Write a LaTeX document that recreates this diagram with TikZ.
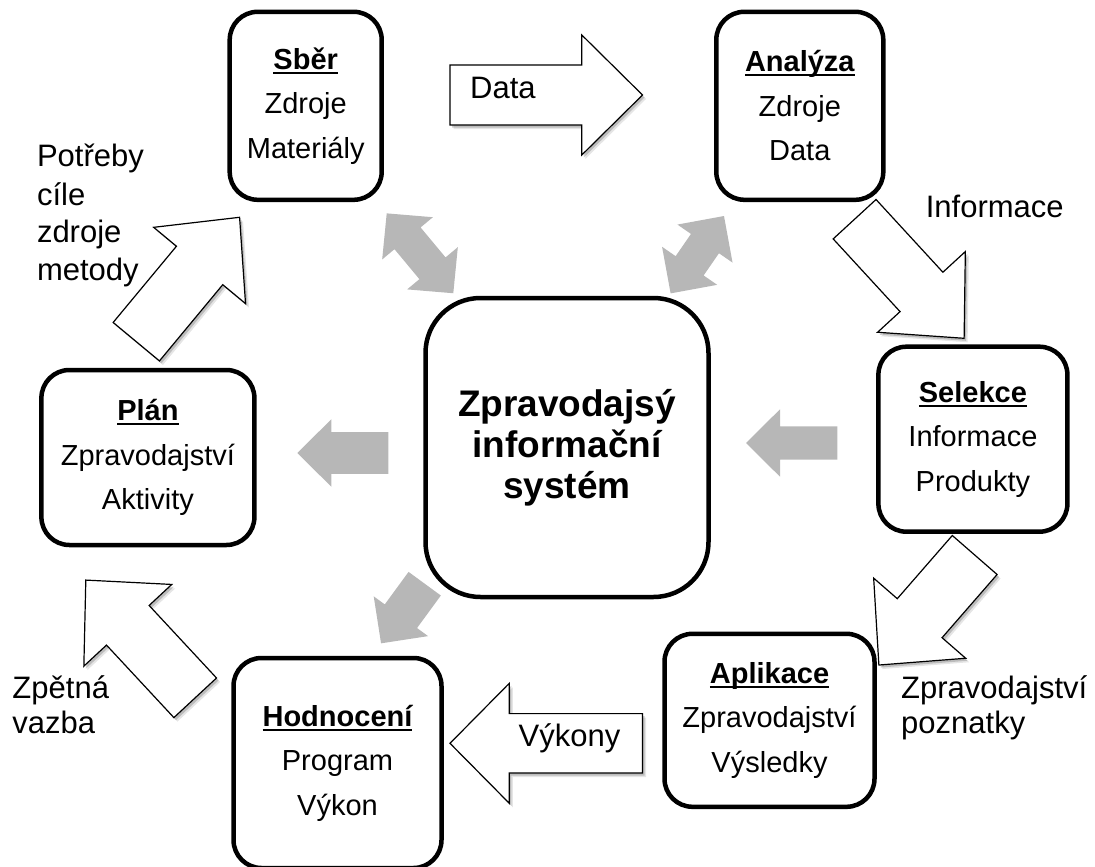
\documentclass[tikz,border=0pt]{standalone}
\usepackage{fontspec}
\setmainfont{Liberation Sans}
\definecolor{arrowgray}{RGB}{183,183,183}

% block arrow: style, tail x, tail y, direction (deg, y down), length, shaft half width, head half width, head length
\newcommand{\blockarrow}[8]{%
  \begin{scope}[shift={(#2,#3)},rotate={-(#4)}]
    \path[#1] (0,#6) -- ({#5-#8},#6) -- ({#5-#8},#7) -- (#5,0) -- ({#5-#8},{-#7})
      -- ({#5-#8},{-#6}) -- (0,{-#6}) -- cycle;
  \end{scope}}
% white outlined block arrow with a soft drop shadow
\newcommand{\hollowarrow}[7]{%
  \begin{scope}[shift={(3.5,4)}]\blockarrow{fill=black,opacity=.10}{#1}{#2}{#3}{#4}{#5}{#6}{#7}\end{scope}
  \begin{scope}[shift={(2,2.5)}]\blockarrow{fill=black,opacity=.18}{#1}{#2}{#3}{#4}{#5}{#6}{#7}\end{scope}
  \blockarrow{hollow}{#1}{#2}{#3}{#4}{#5}{#6}{#7}}
% grey arrow with a head at both ends: centre x, centre y, direction, length, shaft half, head half, head length
\newcommand{\dblarrow}[7]{%
  \begin{scope}[shift={(#1,#2)},rotate={-(#3)}]
    \fill[arrowgray] ({-#4/2},0) -- ({-#4/2+#7},#6) -- ({-#4/2+#7},#5) -- ({#4/2-#7},#5)
      -- ({#4/2-#7},#6) -- ({#4/2},0) -- ({#4/2-#7},{-#6}) -- ({#4/2-#7},{-#5})
      -- ({-#4/2+#7},{-#5}) -- ({-#4/2+#7},{-#6}) -- cycle;
  \end{scope}}
% bold underlined heading inside a box
\newcommand{\boxtitle}[1]{\setbox0=\hbox{\bfseries #1}\rlap{\rule[-4.5pt]{\wd0}{2pt}}\box0}

\begin{document}
\begin{tikzpicture}[x=1pt,y=-1pt,
  hollow/.style={draw=black,line width=1.2pt,fill=white,line join=miter},
  grayarrow/.style={fill=arrowgray},
  box/.style={draw,line width=4.5pt,rounded corners=28pt,fill=white,align=center,
    font=\fontsize{29}{44.5}\selectfont,inner sep=0pt},
  lbl/.style={font=\fontsize{31}{38}\selectfont,inner sep=0pt,anchor=base west}]
\useasboundingbox (0,0) rectangle (1095,867);

% central system box
\node[box,rounded corners=55pt,minimum width=283pt,minimum height=299pt,
  font=\bfseries\fontsize{37}{41}\selectfont] (sys) at (567,447.5)
  {Zpravodajsý\\informační\\systém};

% cycle stages
\node[box,minimum width=152pt,minimum height=188pt] (sber) at (305.7,105.8)
  {\boxtitle{Sběr}\\Zdroje\\Materiály};
\node[box,minimum width=167pt,minimum height=188pt] (analyza) at (799.8,105.8)
  {\boxtitle{Analýza}\\Zdroje\\Data};
\node[box,minimum width=189pt,minimum height=185pt] (selekce) at (972.9,439.2)
  {\boxtitle{Selekce}\\Informace\\Produkty};
\node[box,minimum width=210pt,minimum height=173pt] (aplikace) at (769.5,720.3)
  {\boxtitle{Aplikace}\\Zpravodajství\\Výsledky};
\node[box,minimum width=208pt,minimum height=210pt] (hodnoceni) at (337.5,763)
  {\boxtitle{Hodnocení}\\Program\\Výkon};
\node[box,minimum width=213pt,minimum height=175pt] (plan) at (147.9,457.5)
  {\boxtitle{Plán}\\Zpravodajství\\Aktivity};

% white flow arrows between the stages
\hollowarrow{450}{95}{0}{192.5}{30}{60}{60.7}
\hollowarrow{854.6}{219.2}{47.4}{161.8}{29.1}{59.6}{63}
\hollowarrow{974.7}{555}{131.05}{145.9}{29.7}{61}{62.1}
\hollowarrow{642.5}{743.3}{180}{192.5}{29.7}{60}{59.3}
\hollowarrow{195.2}{697.8}{-132.9}{160.7}{29.1}{60}{61.7}
\hollowarrow{136.3}{341.7}{-50.3}{161.7}{30.1}{59.7}{62.6}

% grey arrows linking the system with the stages
\dblarrow{420}{253.3}{50.2}{104}{17}{33}{32.5}
\dblarrow{697.3}{254.7}{124.6}{94}{17}{33.5}{33.5}
\blockarrow{grayarrow}{388.3}{453}{180}{91}{20.8}{33.7}{34}
\blockarrow{grayarrow}{837.3}{443}{180}{91.3}{16.7}{33.7}{34}
\blockarrow{grayarrow}{424.7}{583.7}{126.2}{73.9}{20}{33.7}{33.6}

% labels of the flows
\node[lbl] (tdata) at (470,98.3) {Data};
\node[lbl] (tvykony) at (518.5,746) {Výkony};
\node[lbl] (tinfo) at (925.6,217.3) {Informace};
\node[lbl] (tzpr1) at (901,698) {Zpravodajství};
\node[lbl] (tzpr2) at (901,733) {poznatky};
\node[lbl] (tzpet1) at (12.3,698.3) {Zpětná};
\node[lbl] (tzpet2) at (12.3,733.3) {vazba};
\node[lbl] (tpot1) at (36.8,166.7) {Potřeby};
\node[lbl] (tpot2) at (36.8,205) {cíle};
\node[lbl] (tpot3) at (36.8,242.7) {zdroje};
\node[lbl] (tpot4) at (36.8,280) {metody};
\end{tikzpicture}
\end{document}
